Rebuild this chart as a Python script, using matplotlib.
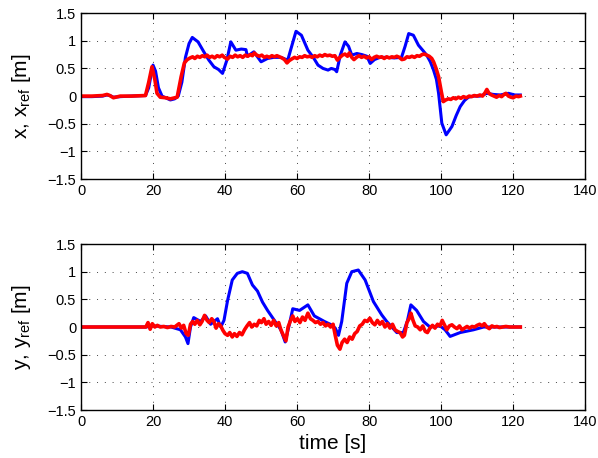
import matplotlib
matplotlib.use("Agg")
import matplotlib.pyplot as plt

plt.rcParams['font.family'] = ['Liberation Sans', 'DejaVu Sans']
plt.rcParams['mathtext.fontset'] = 'custom'
plt.rcParams['mathtext.rm'] = 'Liberation Sans'

# x position (top panel): measured
t_x = [0, 3, 6, 7.2, 8, 9, 10.9, 14, 17.9, 18.8, 19.5, 20.0, 20.7, 21.5, 22.5, 24.8, 26, 27.0,
       28.0, 29.0, 30.0, 30.9, 32.5, 34.1, 35.5, 36.9, 38.2, 39.3, 40.5, 41.6, 43.0, 44.5,
       45.8, 46.2, 48.0, 50.0, 51.8, 53.5, 55.5, 57.4, 58.5, 59.7, 61.2, 63.0, 64.5, 65.8,
       67.2, 68.6, 69.5, 70.5, 71.0, 72.0, 73.3, 74.3, 75.2, 76.6, 78.0, 79.4, 80.3, 81.5,
       83, 85, 87, 89.0, 90.0, 91.0, 92.3, 93.7, 95.0, 96.0, 97.0, 97.9, 98.7, 99.3, 100.2,
       101.4, 103.0, 104.2, 105.3, 106.5, 107.6, 109.0, 110.8, 112.7, 114.5, 116.4, 118.7,
       120.5, 122.0]
x_meas = [-0.01, -0.01, 0.0, 0.02, 0.01, -0.02, -0.01, 0.0, 0.01, 0.15, 0.40, 0.56, 0.45, 0.15,
          0.0, -0.07, -0.05, 0.0, 0.25, 0.70, 0.95, 1.06, 0.98, 0.80, 0.65, 0.53, 0.48, 0.41,
          0.65, 0.98, 0.83, 0.85, 0.84, 0.72, 0.80, 0.62, 0.68, 0.70, 0.70, 0.65, 0.90, 1.17,
          1.10, 0.83, 0.70, 0.56, 0.50, 0.47, 0.50, 0.48, 0.44, 0.74, 0.98, 0.90, 0.74, 0.77,
          0.75, 0.72, 0.59, 0.66, 0.70, 0.70, 0.69, 0.70, 0.90, 1.13, 1.10, 0.92, 0.82, 0.74,
          0.62, 0.47, 0.30, 0.05, -0.49, -0.70, -0.55, -0.35, -0.19, -0.08, -0.02, 0.0, 0.0,
          0.05, 0.03, 0.02, 0.05, 0.02, 0.02]

# x position: reference
t_xr = [0, 3, 6, 7.2, 8, 9, 10.9, 14, 17.9, 18.8, 19.7, 20.5, 21.1, 22.0, 23.5, 24.8, 26.7,
        27.8, 28.7, 29.5, 30.3, 31.0, 31.6, 32.3, 33.0, 33.7, 34.4, 35.0, 35.7, 36.4, 37.1,
        37.8, 38.5, 39.2, 39.8, 40.7, 41.4, 42.1, 42.8, 43.5, 44.2, 44.9, 45.6, 46.3, 47.0,
        47.6, 48.1, 48.8, 49.5, 50.2, 50.9, 51.6, 52.3, 53.0, 53.7, 54.4, 55.1, 55.8, 56.5,
        57.2, 57.8, 58.5, 59.3, 60.0, 60.7, 61.4, 62.1, 62.8, 63.5, 64.2, 64.9, 65.6, 66.3,
        67.0, 67.7, 68.4, 69.1, 69.8, 70.5, 71.2, 71.9, 72.6, 73.3, 74.0, 74.5, 75.2, 75.8,
        76.5, 77.2, 77.9, 78.6, 79.3, 80.0, 80.7, 81.4, 82.1, 82.8, 83.5, 84.2, 84.9, 85.6,
        86.3, 87.0, 87.7, 88.4, 89.1, 89.8, 90.5, 91.2, 91.9, 92.6, 93.3, 94.0, 94.7, 95.3,
        96.0, 96.7, 97.4, 97.9, 98.6, 99.3, 100.0, 100.6, 101.3, 102.0, 102.7, 103.4, 104.1,
        104.8, 105.5, 106.2, 107.0, 107.8, 108.5, 109.2, 110.0, 110.8, 111.5, 112.2, 112.7,
        113.3, 114.0, 114.7, 115.4, 116.1, 116.8, 117.5, 118.0, 118.7, 119.4, 120.0, 120.8,
        121.5, 122.0]
x_ref = [0.0, 0.0, 0.01, 0.03, 0.01, -0.03, 0.0, 0.0, 0.01, 0.25, 0.53, 0.30, 0.05, -0.02,
         -0.03, -0.05, -0.02, 0.35, 0.60, 0.66, 0.69, 0.71, 0.68, 0.72, 0.70, 0.73, 0.71,
         0.74, 0.70, 0.72, 0.69, 0.73, 0.71, 0.74, 0.70, 0.67, 0.72, 0.70, 0.74, 0.71, 0.73,
         0.70, 0.74, 0.72, 0.75, 0.73, 0.78, 0.74, 0.72, 0.74, 0.70, 0.72, 0.70, 0.73, 0.71,
         0.73, 0.71, 0.69, 0.66, 0.60, 0.64, 0.67, 0.70, 0.68, 0.71, 0.70, 0.73, 0.71, 0.72,
         0.70, 0.73, 0.71, 0.74, 0.72, 0.75, 0.73, 0.74, 0.72, 0.73, 0.65, 0.70, 0.74, 0.76,
         0.72, 0.78, 0.70, 0.66, 0.70, 0.73, 0.70, 0.72, 0.69, 0.71, 0.66, 0.70, 0.72, 0.70,
         0.71, 0.68, 0.71, 0.69, 0.71, 0.70, 0.72, 0.70, 0.66, 0.67, 0.71, 0.70, 0.72, 0.70,
         0.73, 0.72, 0.75, 0.76, 0.74, 0.72, 0.68, 0.62, 0.50, 0.35, 0.10, -0.10, -0.07,
         -0.05, -0.06, -0.03, -0.05, -0.02, -0.04, -0.01, -0.03, 0.0, -0.01, 0.01, 0.0, 0.02,
         0.0, 0.06, 0.12, 0.05, 0.02, 0.0, -0.02, 0.01, -0.01, 0.03, 0.05, 0.0, -0.02, -0.03,
         0.0, -0.01, 0.0]

# y position (bottom panel): measured
t_y = [0, 10, 18, 20, 25, 27.6, 29.0, 29.7, 30.4, 31.3, 33.2, 34.6, 36.0, 37.9, 38.8, 39.7,
       40.7, 42.0, 43.4, 44.8, 46.2, 47.6, 49.0, 50.4, 51.8, 53.7, 55.5, 56.7, 57.9, 58.8,
       60.7, 63.0, 64.8, 67.6, 69.2, 70.6, 71.5, 72.4, 73.8, 75.2, 77.0, 78.9, 81.2, 83.5,
       84.9, 87.7, 89.5, 90.6, 91.6, 93.2, 95.1, 96.9, 99.7, 101.1, 102.5, 105.3, 109.0,
       111.8, 113.6, 117, 122]
y_meas = [0.0, 0.0, 0.0, 0.02, 0.0, -0.05, -0.18, -0.30, 0.0, 0.17, 0.10, 0.20, 0.05, 0.15,
          0.0, 0.12, 0.48, 0.85, 0.97, 1.0, 0.97, 0.76, 0.65, 0.45, 0.30, 0.12, -0.05, -0.27,
          0.06, 0.33, 0.30, 0.40, 0.20, 0.10, 0.05, -0.02, -0.15, 0.10, 0.79, 1.0, 1.03, 0.85,
          0.46, 0.22, 0.10, -0.10, -0.10, 0.10, 0.40, 0.30, 0.10, 0.0, 0.02, -0.05, -0.17,
          -0.10, -0.05, 0.0, 0.0, 0.0, 0.0]

# y position: reference
t_yr = [0, 10, 18.0, 18.6, 19.2, 19.8, 20.5, 21.2, 22, 23, 24, 25, 26, 27.2, 27.9, 28.5, 29.2,
        29.8, 30.4, 31.0, 31.6, 32.3, 33.0, 33.6, 34.3, 35.0, 35.6, 36.3, 36.9, 37.5, 38.2,
        38.8, 39.4, 40.0, 40.7, 41.3, 42.0, 42.6, 43.3, 44.0, 44.7, 45.4, 46.1, 46.8, 47.4,
        48.1, 48.8, 49.5, 50.1, 50.8, 51.4, 52.1, 52.8, 53.5, 54.2, 54.9, 55.5, 56.2, 56.9,
        57.5, 58.2, 58.8, 59.4, 60.1, 60.8, 61.5, 62.2, 63.0, 63.7, 64.4, 65.1, 65.8, 66.5,
        67.2, 67.9, 68.6, 69.3, 70.0, 70.6, 71.2, 71.9, 72.5, 73.2, 73.9, 74.6, 75.3, 76.0,
        76.7, 77.4, 78.1, 78.8, 79.5, 80.2, 80.9, 81.6, 82.3, 83.0, 83.7, 84.4, 85.1, 85.8,
        86.5, 87.2, 87.9, 88.6, 89.3, 89.8, 90.5, 91.1, 91.6, 92.2, 92.8, 93.5, 94.2, 94.9,
        95.6, 96.2, 96.9, 97.6, 98.3, 99.0, 99.7, 100.3, 101.0, 101.6, 102.3, 103.0, 103.7,
        104.4, 105.1, 105.8, 106.5, 107.2, 107.9, 108.6, 109.3, 110.0, 110.7, 111.4, 112.0,
        112.7, 113.4, 114.1, 114.8, 115.5, 116.2, 117, 118, 119, 120, 122]
y_ref = [0.0, 0.0, 0.0, 0.08, -0.04, 0.06, 0.0, 0.03, 0.0, 0.01, -0.01, 0.01, 0.0, 0.06,
         -0.02, 0.03, -0.12, -0.15, 0.05, 0.10, 0.05, 0.12, 0.04, 0.10, 0.21, 0.12, 0.08, 0.15,
         0.10, -0.02, 0.06, 0.02, -0.06, -0.12, -0.15, -0.10, -0.18, -0.12, -0.17, -0.10,
         -0.14, -0.05, 0.02, 0.08, 0.0, 0.05, 0.02, 0.12, 0.08, 0.15, 0.05, 0.10, 0.03, 0.12,
         0.02, 0.08, -0.05, -0.15, -0.25, 0.0, 0.12, 0.20, 0.10, 0.15, 0.08, 0.18, 0.12, 0.25,
         0.15, 0.12, 0.08, 0.10, 0.05, 0.08, 0.02, 0.05, 0.0, 0.05, -0.15, -0.33, -0.40, -0.28,
         -0.22, -0.28, -0.18, -0.22, -0.12, -0.08, 0.02, 0.05, 0.12, 0.10, 0.16, 0.08, 0.04,
         0.12, 0.05, 0.10, 0.0, 0.06, -0.02, 0.05, -0.05, -0.08, -0.10, -0.18, -0.15, 0.08,
         0.15, 0.25, 0.12, 0.02, 0.0, -0.05, 0.02, -0.08, -0.10, -0.02, 0.03, -0.02, 0.05,
         0.02, 0.12, 0.03, -0.05, 0.02, 0.04, 0.0, -0.03, 0.02, -0.05, -0.02, 0.01, -0.02,
         0.01, 0.0, 0.03, 0.05, 0.02, 0.06, 0.0, -0.03, 0.02, 0.0, 0.01, -0.01, 0.0, 0.01,
         0.0, 0.0, 0.0]

fig = plt.figure(figsize=(5.98, 4.58), dpi=100)
ax1 = fig.add_axes([0.1355, 0.609, 0.843, 0.3624])
ax2 = fig.add_axes([0.1355, 0.1048, 0.843, 0.3624])

panels = [(ax1, t_x, x_meas, t_xr, x_ref, r'x, x$_{\mathrm{ref}}$ [m]'),
          (ax2, t_y, y_meas, t_yr, y_ref, r'y, y$_{\mathrm{ref}}$ [m]')]

for ax, tm, vm, tr, vr, lab in panels:
    ax.plot(tm, vm, color='#0000ff', lw=2.2)
    ax.plot(tr, vr, color='#ff0000', lw=2.6)
    ax.set_xlim(0, 140)
    ax.set_ylim(-1.5, 1.5)
    ax.set_xticks(range(0, 141, 20))
    ax.set_yticks([-1.5, -1, -0.5, 0, 0.5, 1, 1.5])
    ax.set_yticklabels(['\u22121.5', '\u22121', '\u22120.5', '0', '0.5', '1', '1.5'])
    ax.grid(True, linestyle=(0, (1, 7)), color='#444444', lw=0.7)
    ax.tick_params(direction='in', top=True, right=True, labelsize=10.5, length=4)
    ax.set_ylabel(lab, fontsize=15, labelpad=10)
    for s in ax.spines.values():
        s.set_linewidth(1.0)

ax2.set_xlabel('time [s]', fontsize=15, labelpad=4)

fig.savefig('out.png', dpi=100)
